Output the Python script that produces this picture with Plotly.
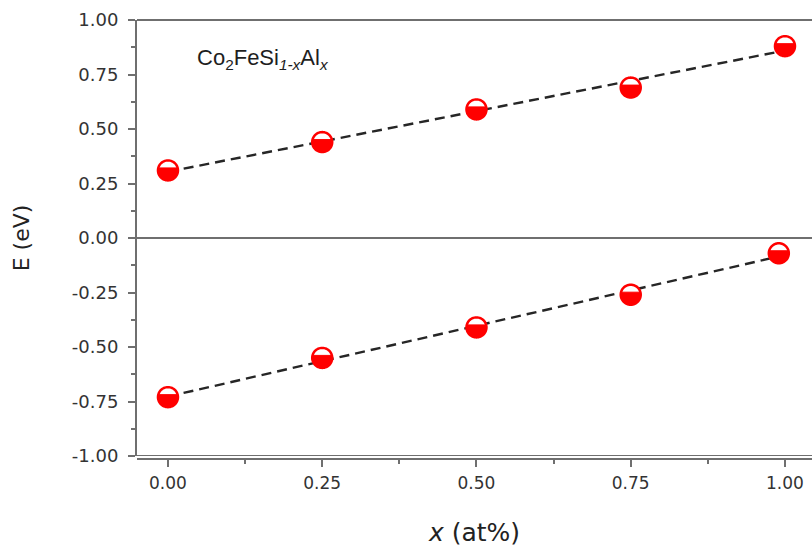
import numpy as np
import plotly.graph_objects as go

# Composition x (at%) and energies (eV) for Co2FeSi(1-x)Al(x)
x_upper = [0.00, 0.25, 0.50, 0.75, 1.00]
e_upper = [0.31, 0.44, 0.59, 0.69, 0.88]
x_lower = [0.00, 0.25, 0.50, 0.75, 0.99]
e_lower = [-0.73, -0.55, -0.41, -0.26, -0.07]

tick_vals = [0.00, 0.25, 0.50, 0.75, 1.00]
tick_text = ["0.00", "0.25", "0.50", "0.75", "1.00"]
ytick_vals = [-1.00, -0.75, -0.50, -0.25, 0.00, 0.25, 0.50, 0.75, 1.00]
ytick_text = ["-1.00", "-0.75", "-0.50", "-0.25", "0.00", "0.25", "0.50", "0.75", "1.00"]

RED = "#ff0000"
AXIS = "#6f6f6f"
LABEL = "#333333"

fig = go.Figure()

# Linear fits drawn as dashed lines
for xs, ys in ((x_upper, e_upper), (x_lower, e_lower)):
    k, b = np.polyfit(xs, ys, 1)
    xf = np.array([min(xs), max(xs)])
    fig.add_trace(go.Scatter(
        x=xf, y=k * xf + b, mode="lines",
        line=dict(color="#262626", width=2.4, dash="10px,6px"),
        hoverinfo="skip", showlegend=False,
    ))

# Invisible scatter for hover on the data points
fig.add_trace(go.Scatter(
    x=x_upper + x_lower, y=e_upper + e_lower, mode="markers",
    marker=dict(size=20, color="rgba(0,0,0,0)"), showlegend=False,
))

# Half-filled circle markers built as pixel-sized paths anchored at each point
R = 10
CHORD = 2.5  # chord height above centre (px)


def path_from(points):
    return "M" + " L".join(f"{px:.2f},{py:.2f}" for px, py in points) + " Z"


t = np.linspace(0, 2 * np.pi, 60, endpoint=False)
circle_pts = list(zip(R * np.cos(t), R * np.sin(t)))
a0 = np.arcsin(CHORD / R)
ts = np.linspace(a0, -np.pi - a0, 40)
seg_pts = list(zip(R * np.cos(ts), R * np.sin(ts)))
circle_path = path_from(circle_pts)
seg_path = path_from(seg_pts)

for xs, ys in ((x_upper, e_upper), (x_lower, e_lower)):
    for xv, yv in zip(xs, ys):
        common = dict(type="path", xref="x", yref="y",
                      xsizemode="pixel", ysizemode="pixel",
                      xanchor=xv, yanchor=yv)
        fig.add_shape(path=circle_path, fillcolor="white",
                      line=dict(color=RED, width=2.5), **common)
        fig.add_shape(path=seg_path, fillcolor=RED,
                      line=dict(color=RED, width=1), **common)

# Frame line along the bottom of the plot area
fig.add_shape(type="line", xref="paper", yref="y", x0=0, x1=1, y0=-1, y1=-1,
              line=dict(color=AXIS, width=2), layer="below")

fig.add_annotation(
    x=0.044, y=0.82, xref="x", yref="y", xanchor="left", yanchor="middle",
    text="Co<sub>2</sub>FeSi<sub><i>1-x</i></sub>Al<sub><i>x</i></sub>",
    showarrow=False, font=dict(family="Arial", size=22, color="#1e1e1e"),
)

fig.update_layout(
    width=812, height=556,
    margin=dict(l=137, r=0, t=20, b=97),
    paper_bgcolor="white", plot_bgcolor="white",
    showlegend=False,
    xaxis=dict(
        range=[-0.0502, 1.0438], anchor="free", position=0,
        tickmode="array", tickvals=tick_vals, ticktext=tick_text,
        ticks="outside", ticklen=7, tickwidth=2, tickcolor=AXIS,
        minor=dict(ticks="outside", ticklen=4, tickwidth=2, tickcolor=AXIS,
                   dtick=0.125, tick0=0),
        showline=True, linecolor=AXIS, linewidth=2, mirror=False,
        showgrid=False, zeroline=False,
        tickfont=dict(family="DejaVu Sans", size=17, color=LABEL),
        ticklabelstandoff=2,
        title=dict(text="<i>x</i> (at%)", standoff=30,
                   font=dict(family="DejaVu Sans", size=25, color="#222222")),
    ),
    yaxis=dict(
        range=[-1.0, 1.0], domain=[3 / 439, 1],
        tickmode="array", tickvals=ytick_vals, ticktext=ytick_text,
        ticks="outside", ticklen=7, tickwidth=2, tickcolor=AXIS,
        minor=dict(ticks="outside", ticklen=4, tickwidth=2, tickcolor=AXIS,
                   dtick=0.125, tick0=0),
        showline=True, linecolor=AXIS, linewidth=2,
        showgrid=False, zeroline=True, zerolinecolor=AXIS, zerolinewidth=2,
        tickfont=dict(family="DejaVu Sans", size=18, color=LABEL),
        ticklabelstandoff=6,
        title=dict(text="E (eV)", standoff=36,
                   font=dict(family="DejaVu Sans", size=22, color="#222222")),
    ),
)

# Top frame line
fig.add_shape(type="line", xref="paper", yref="paper", x0=0, x1=1, y0=1, y1=1,
              line=dict(color=AXIS, width=2))

fig.write_html("out.html")
